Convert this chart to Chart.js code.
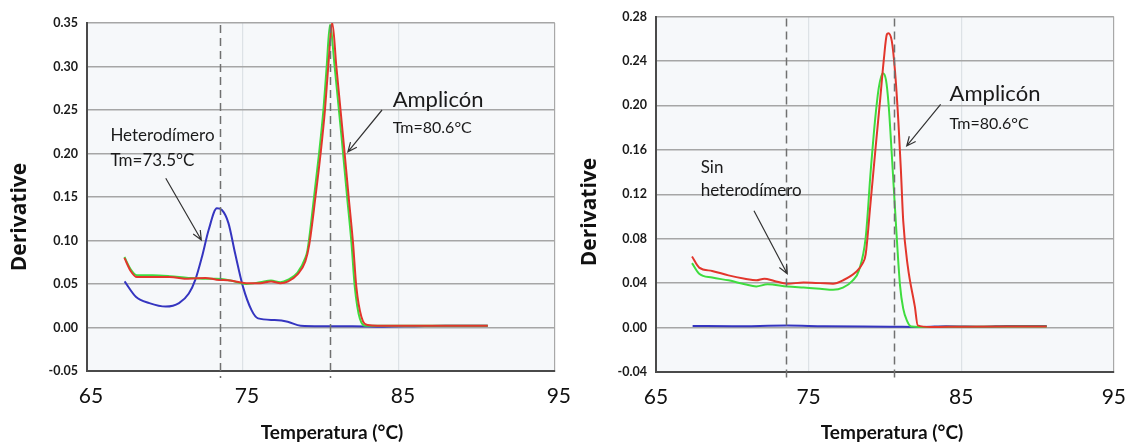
<!DOCTYPE html>
<html>
<head>
<meta charset="utf-8">
<script src="https://cdn.jsdelivr.net/npm/chart.js@4.4.1/dist/chart.umd.min.js"></script>
<style>
  html, body { margin: 0; padding: 0; background: #fff; }
  body { width: 1139px; height: 446px; position: relative; overflow: hidden; }
  .box { position: absolute; top: 0; height: 446px; }
  #leftBox { left: 0; width: 580px; }
  #rightBox { left: 570px; width: 569px; }
</style>
</head>
<body>
<div class="box" id="leftBox"><canvas id="leftChart"></canvas></div>
<div class="box" id="rightBox"><canvas id="rightChart"></canvas></div>
<script>
// melt curves, left panel (with heterodimer)
const leftRedT = [67.4, 67.8, 68.2, 69.2, 70.3, 71.5, 72.6, 73.3, 74.2, 75.2, 76.1, 76.8, 77.4, 77.9, 78.5, 79.0, 79.25, 79.65, 79.98, 80.26, 80.47, 80.73, 80.99, 81.46, 81.78, 82.06, 82.27, 82.6, 83.0, 84.5, 86.0, 88.0, 90.7];
const leftRedD = [0.080, 0.065, 0.058, 0.058, 0.058, 0.056, 0.057, 0.055, 0.054, 0.051, 0.051, 0.053, 0.051, 0.053, 0.061, 0.076, 0.095, 0.150, 0.200, 0.250, 0.300, 0.350, 0.300, 0.212, 0.150, 0.097, 0.047, 0.012, 0.003, 0.002, 0.002, 0.002, 0.002];
const leftGreenT = [67.4, 67.8, 68.2, 69.2, 70.3, 71.5, 72.6, 73.3, 74.2, 75.2, 76.1, 76.8, 77.4, 77.9, 78.5, 79.0, 79.14, 79.56, 79.88, 80.16, 80.37, 80.58, 80.88, 81.36, 81.68, 81.96, 82.17, 82.5, 82.9, 84.5, 86.0, 88.0, 90.7];
const leftGreenD = [0.081, 0.067, 0.060, 0.060, 0.059, 0.057, 0.056, 0.056, 0.054, 0.050, 0.052, 0.054, 0.052, 0.055, 0.063, 0.080, 0.089, 0.150, 0.200, 0.250, 0.300, 0.348, 0.300, 0.212, 0.150, 0.097, 0.047, 0.010, 0.002, 0.002, 0.002, 0.002, 0.002];
const leftBlueT = [67.41, 68.15, 69.0, 70.05, 70.9, 71.53, 71.95, 72.37, 72.8, 73.33, 73.65, 74.07, 74.5, 75.0, 75.55, 75.97, 77.03, 77.87, 78.7, 80.0, 82.0, 84.0, 86.0, 88.0, 90.7];
const leftBlueD = [0.053, 0.035, 0.028, 0.024, 0.028, 0.039, 0.055, 0.081, 0.112, 0.137, 0.135, 0.120, 0.085, 0.047, 0.020, 0.0105, 0.0086, 0.0067, 0.002, 0.0015, 0.0015, 0.001, 0.0015, 0.002, 0.002];

// melt curves, right panel (no heterodimer)
const rightRedT = [67.36, 67.83, 68.68, 69.75, 70.82, 71.57, 72.1, 72.75, 73.6, 74.67, 75.75, 76.6, 77.25, 78.1, 78.53, 78.74, 79.05, 79.39, 79.7, 79.92, 80.13, 80.23, 80.45, 80.66, 80.88, 81.05, 81.2, 81.5, 81.96, 82.15, 83.0, 85.0, 88.0, 90.6];
const rightRedD = [0.064, 0.054, 0.051, 0.047, 0.044, 0.0425, 0.044, 0.042, 0.0395, 0.0405, 0.040, 0.0395, 0.0425, 0.050, 0.0575, 0.066, 0.111, 0.162, 0.207, 0.240, 0.264, 0.265, 0.258, 0.231, 0.186, 0.141, 0.096, 0.055, 0.019, 0.002, 0.0005, 0.0008, 0.001, 0.001];
const rightGreenT = [67.36, 67.83, 68.68, 69.75, 70.82, 71.57, 72.3, 73.6, 74.67, 75.75, 76.6, 77.25, 77.9, 78.3, 78.74, 79.07, 79.35, 79.6, 79.86, 80.07, 80.24, 80.45, 80.71, 80.99, 81.2, 81.45, 81.72, 83.0, 86.0, 90.6];
const rightGreenD = [0.058, 0.0485, 0.045, 0.0425, 0.039, 0.037, 0.039, 0.037, 0.036, 0.035, 0.034, 0.036, 0.0425, 0.0515, 0.081, 0.141, 0.186, 0.216, 0.229, 0.223, 0.201, 0.156, 0.096, 0.038, 0.017, 0.006, 0.001, 0.0005, 0.0008, 0.001];
const rightBlueT = [67.4, 70.0, 73.6, 76.0, 80.3, 82.5, 84.0, 86.5, 88.0, 90.6];
const rightBlueD = [0.0015, 0.0012, 0.0018, 0.0012, 0.0008, 0.0005, 0.0012, 0.0008, 0.0015, 0.0015];

// axis ranges and melting temperatures
const tempTicks = [65, 75, 85, 95];
const leftYTicks = [-0.05, 0.00, 0.05, 0.10, 0.15, 0.20, 0.25, 0.30, 0.35];
const rightYTicks = [-0.04, 0.00, 0.04, 0.08, 0.12, 0.16, 0.20, 0.24, 0.28];
const tmHetero = 73.5;
const tmAmplicon = 80.6;

const RED = '#e2362c';
const GREEN = '#3fdc3f';
const BLUE = '#3535c0';

function toPoints(ts, ds) {
  return ts.map((t, i) => ({ x: t, y: ds[i] }));
}

function series(ts, ds, color) {
  return {
    data: toPoints(ts, ds),
    borderColor: color,
    backgroundColor: color,
    borderWidth: 2,
    pointRadius: 0,
    cubicInterpolationMode: 'monotone',
    fill: false
  };
}

function arrow(ctx, x1, y1, x2, y2) {
  const a = Math.atan2(y2 - y1, x2 - x1);
  const len = 10, spread = 0.42;
  ctx.beginPath();
  ctx.moveTo(x1, y1);
  ctx.lineTo(x2, y2);
  ctx.moveTo(x2 - len * Math.cos(a - spread), y2 - len * Math.sin(a - spread));
  ctx.lineTo(x2, y2);
  ctx.lineTo(x2 - len * Math.cos(a + spread), y2 - len * Math.sin(a + spread));
  ctx.stroke();
}

// plot backdrop, Tm guides, notes and axis titles
const decor = {
  id: 'decor',
  beforeDraw(chart) {
    const { ctx, chartArea: a } = chart;
    ctx.save();
    ctx.fillStyle = '#f6f8fa';
    ctx.fillRect(a.left, a.top, a.right - a.left, a.bottom - a.top);
    ctx.restore();
  },
  afterDatasetsDraw(chart, args, opts) {
    const { ctx, chartArea: a, scales: { x, y } } = chart;
    ctx.save();
    ctx.strokeStyle = '#707070';
    ctx.lineWidth = 1.5;
    ctx.setLineDash([8, 5]);
    opts.guides.forEach(t => {
      const px = Math.round(x.getPixelForValue(t)) + 0.5;
      ctx.beginPath();
      ctx.moveTo(px, a.top + 2);
      ctx.lineTo(px, a.bottom + 7);
      ctx.stroke();
    });
    ctx.setLineDash([]);

    ctx.fillStyle = '#1a1a1a';
    ctx.textAlign = 'left';
    ctx.textBaseline = 'middle';
    opts.notes.forEach(n => {
      ctx.font = n.font;
      ctx.fillText(n.text, x.getPixelForValue(n.x), y.getPixelForValue(n.y));
    });

    ctx.strokeStyle = '#333';
    ctx.lineWidth = 1.2;
    opts.arrows.forEach(r => {
      arrow(ctx, x.getPixelForValue(r[0]), y.getPixelForValue(r[1]),
        x.getPixelForValue(r[2]), y.getPixelForValue(r[3]));
    });

    ctx.fillStyle = '#111';
    ctx.textAlign = 'center';
    ctx.font = 'bold 21px "Open Sans"';
    ctx.save();
    ctx.translate(opts.yTitle[0], opts.yTitle[1]);
    ctx.rotate(-Math.PI / 2);
    ctx.fillText('Derivative', 0, 0);
    ctx.restore();
    ctx.font = 'bold 19px Lato';
    ctx.fillText('Temperatura (°C)', opts.xTitle[0], opts.xTitle[1]);
    ctx.restore();
  }
};

function makeChart(id, sets, yTicks, box, decorOpts) {
  return new Chart(document.getElementById(id), {
    type: 'line',
    data: { datasets: sets },
    plugins: [decor],
    options: {
      responsive: true,
      maintainAspectRatio: false,
      animation: false,
      layout: { padding: { top: box.top, right: box.right, left: 0, bottom: 0 } },
      plugins: { legend: { display: false }, tooltip: { enabled: false }, decor: decorOpts },
      scales: {
        x: {
          type: 'linear',
          min: tempTicks[0],
          max: tempTicks[tempTicks.length - 1],
          afterBuildTicks: s => { s.ticks = tempTicks.map(v => ({ value: v })); },
          afterFit: s => { s.height = box.xHeight; },
          ticks: {
            color: '#111',
            font: { family: 'Lato', size: 21 },
            padding: 13,
            labelOffset: box.xLabelOffset,
            maxRotation: 0
          },
          grid: {
            drawTicks: false,
            lineWidth: 1.2,
            color: c => (c.tick && c.tick.value === 95 ? '#a8a8a8' : '#dde2e6')
          },
          border: { color: '#4a4a4a', width: 2 }
        },
        y: {
          min: yTicks[0],
          max: yTicks[yTicks.length - 1],
          afterBuildTicks: s => { s.ticks = yTicks.map(v => ({ value: v })); },
          afterFit: s => { s.width = box.yWidth; },
          ticks: {
            color: '#1a1a1a',
            font: { family: 'Lato', size: 12.5, weight: 'bold' },
            padding: 9,
            callback: v => v.toFixed(2)
          },
          grid: { drawTicks: false, lineWidth: 1.5, color: '#a6a6a6' },
          border: { color: '#4a4a4a', width: 2 }
        }
      }
    }
  });
}

makeChart('leftChart', [
  series(leftRedT, leftRedD, RED),
  series(leftGreenT, leftGreenD, GREEN),
  series(leftBlueT, leftBlueD, BLUE)
], leftYTicks, { top: 23, right: 20, yWidth: 87, xHeight: 75, xLabelOffset: 4 }, {
  guides: [tmHetero, tmAmplicon],
  notes: [
    { text: 'Amplicón', x: 84.6, y: 0.2615, font: '22px Lato' },
    { text: 'Tm=80.6°C', x: 84.6, y: 0.229, font: '16px Lato' },
    { text: 'Heterodímero', x: 66.5, y: 0.221, font: '17px Lato' },
    { text: 'Tm=73.5°C', x: 66.5, y: 0.1925, font: '17px Lato' }
  ],
  arrows: [
    [83.92, 0.25, 81.73, 0.202],
    [70.05, 0.1715, 72.33, 0.1006]
  ],
  yTitle: [20, 217],
  xTitle: [332, 433]
});

makeChart('rightChart', [
  series(rightRedT, rightRedD, RED),
  series(rightGreenT, rightGreenD, GREEN),
  series(rightBlueT, rightBlueD, BLUE)
], rightYTicks, { top: 15, right: 16, yWidth: 86, xHeight: 74, xLabelOffset: 0 }, {
  guides: [tmHetero, tmAmplicon],
  notes: [
    { text: 'Amplicón', x: 84.24, y: 0.210, font: '22px Lato' },
    { text: 'Tm=80.6°C', x: 84.24, y: 0.1835, font: '16px Lato' },
    { text: 'Sin', x: 67.93, y: 0.144, font: '17px Lato' },
    { text: 'heterodímero', x: 67.93, y: 0.123, font: '17px Lato' }
  ],
  arrows: [
    [83.65, 0.2009, 81.43, 0.1635],
    [71.42, 0.1052, 73.6, 0.0485]
  ],
  yTitle: [20, 212],
  xTitle: [322, 433]
});
</script>
</body>
</html>
